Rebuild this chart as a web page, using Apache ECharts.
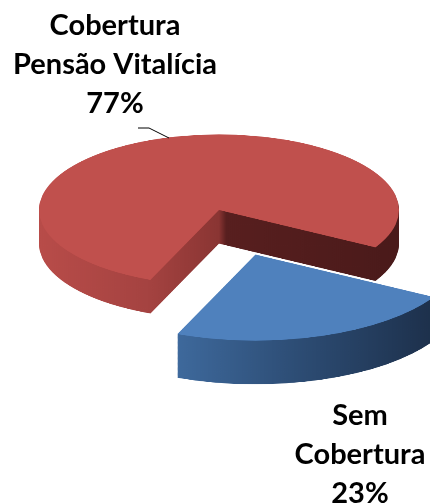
<!doctype html>
<html>
<head>
<meta charset="utf-8">
<title>Cobertura Pensão Vitalícia</title>
<style>
	html, body { margin: 0; padding: 0; background: #fff; }
	#wrap { position: relative; width: 430px; height: 504px; overflow: hidden; }
	/* pie drawn flat, then squashed vertically to look tilted */
	#pie { position: absolute; left: 0; top: 0; width: 430px; height: 1200px; transform: scaleY(0.42); transform-origin: 0 0; }
	#labels { position: absolute; left: 0; top: 0; width: 430px; height: 504px; }
</style>
<script src="https://cdn.jsdelivr.net/npm/echarts@6/dist/echarts.min.js"></script>
</head>
<body>
<div id="wrap">
	<div id="pie"></div>
	<div id="labels"></div>
</div>
<script>
	// dados
	var categories = ['Sem Cobertura', 'Cobertura Pensão Vitalícia'];
	var values = [23, 77];
	var labelLines = [['Sem', 'Cobertura'], ['Cobertura', 'Pensão Vitalícia']];

	var topColors = ['#4f81bd', '#c0504d'];
	var sideColors = [
		{ type: 'linear', x: 0, y: 0, x2: 1, y2: 0, colorStops: [
			{ offset: 0, color: '#3e699c' }, { offset: 0.5, color: '#2c4b72' }, { offset: 1, color: '#1d304b' }] },
		{ type: 'linear', x: 0, y: 0, x2: 1, y2: 0, colorStops: [
			{ offset: 0, color: '#b84c49' }, { offset: 0.3, color: '#a54341' }, { offset: 0.5, color: '#8a3533' },
			{ offset: 0.52, color: '#581f1f' }, { offset: 1, color: '#4a1a1a' }] }
	];

	var cx = 219, cy = 500;
	// a fatia da frente fica um pouco maior e mais funda (perspectiva)
	var radii = [205, 180];
	var depths = [104, 80];
	var offsets = [112, 112];
	var step = 2;

	function pieSeries(idx, dy, color) {
		return {
			type: 'pie',
			center: [cx, cy + dy],
			radius: radii[idx],
			startAngle: -29.6,
			clockwise: true,
			selectedMode: 'single',
			selectedOffset: offsets[idx],
			silent: true,
			animation: false,
			label: { show: false },
			labelLine: { show: false },
			emphasis: { disabled: true },
			select: { itemStyle: { borderWidth: 0 } },
			data: categories.map(function (name, i) {
				return {
					name: name,
					value: values[i],
					selected: i === 0,
					itemStyle: { color: i === idx ? color : 'rgba(0,0,0,0)', borderWidth: 0 }
				};
			})
		};
	}

	var series = [];
	// vermelho atrás, azul (destacado) na frente
	[1, 0].forEach(function (idx) {
		for (var k = depths[idx]; k > 0; k -= step) series.push(pieSeries(idx, k, sideColors[idx]));
		series.push(pieSeries(idx, 0, topColors[idx]));
	});

	var pieChart = echarts.init(document.getElementById('pie'));
	pieChart.setOption({ animation: false, series: series });

	// rótulos
	var total = values.reduce(function (a, b) { return a + b; }, 0);
	function labelText(i) {
		return labelLines[i].concat([Math.round(values[i] / total * 100) + '%']).join('\n');
	}
	var font = 'bold 29px Lato';
	var labelChart = echarts.init(document.getElementById('labels'));
	labelChart.setOption({
		graphic: [
			{ type: 'text', x: 115, y: 6, style: { text: labelText(1), font: font, fill: '#000', textAlign: 'center', textVerticalAlign: 'top', lineHeight: 39 } },
			{ type: 'text', x: 360, y: 396, style: { text: labelText(0), font: font, fill: '#000', textAlign: 'center', textVerticalAlign: 'top', lineHeight: 39 } },
			{ type: 'polyline', shape: { points: [[138, 128], [149, 128], [169, 138]] }, style: { stroke: '#000', lineWidth: 1, fill: null } }
		]
	});
</script>
</body>
</html>
